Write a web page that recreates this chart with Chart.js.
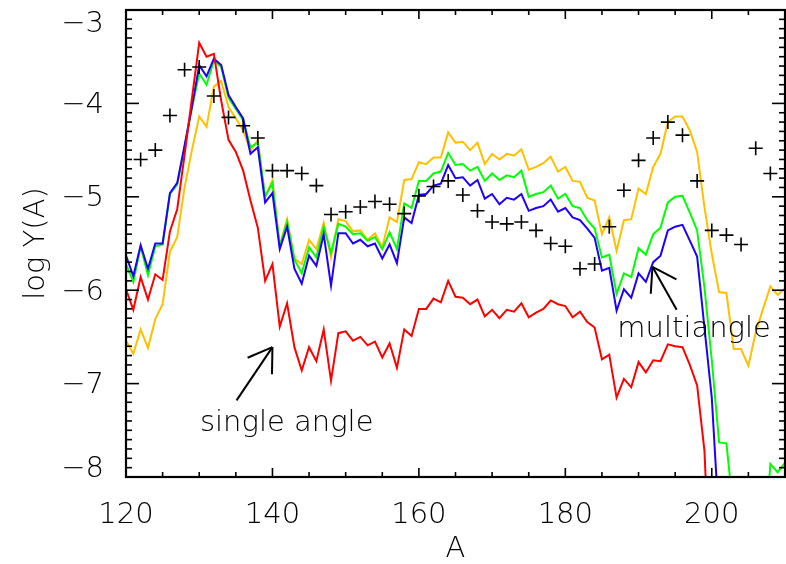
<!DOCTYPE html>
<html>
<head>
<meta charset="utf-8">
<script src="https://cdn.jsdelivr.net/npm/chart.js@4.4.0/dist/chart.umd.min.js"></script>
<style>
  html, body { margin: 0; padding: 0; background: #fff; overflow: hidden; }
  canvas { display: block; }
</style>
</head>
<body>
<canvas id="chart" width="786" height="564"></canvas>
<script>
// mass number A, one point per unit
const massA = [120,121,122,123,124,125,126,127,128,129,130,131,132,133,134,135,136,137,138,139,
  140,141,142,143,144,145,146,147,148,149,150,151,152,153,154,155,156,157,158,159,
  160,161,162,163,164,165,166,167,168,169,170,171,172,173,174,175,176,177,178,179,
  180,181,182,183,184,185,186,187,188,189,190,191,192,193,194,195,196,197,198,199,
  200,201,202,203,204,205,206,207,208,209,210];

// log Y(A), single angle (red)
const redY = [-5.99,-6.21,-5.86,-6.10,-5.83,-5.89,-5.37,-5.13,-4.55,-3.95,
  -3.35,-3.50,-3.47,-3.97,-4.39,-4.52,-4.72,-5.04,-5.33,-5.90,
  -5.72,-6.39,-6.14,-6.61,-6.86,-6.61,-6.76,-6.42,-6.97,-6.46,
  -6.44,-6.54,-6.50,-6.59,-6.55,-6.72,-6.57,-6.83,-6.42,-6.49,
  -6.20,-6.20,-6.09,-6.13,-5.90,-6.07,-6.08,-6.15,-6.10,-6.28,
  -6.21,-6.30,-6.21,-6.23,-6.14,-6.29,-6.24,-6.20,-6.11,-6.15,
  -6.17,-6.29,-6.23,-6.34,-6.40,-6.74,-6.69,-7.15,-6.95,-7.04,
  -6.77,-6.88,-6.75,-6.76,-6.58,-6.60,-6.61,-6.80,-7.02,-7.72,
  -9.5,null,null,null,null,null,null,null,null,null,null];

// multiangle variants
const blueY = [-5.63,-5.85,-5.52,-5.77,-5.50,-5.50,-4.96,-4.85,-4.45,-4.04,
  -3.59,-3.71,-3.52,-3.59,-3.91,-4.04,-4.16,-4.54,-4.47,-5.06,
  -4.96,-5.56,-5.32,-5.77,-5.93,-5.63,-5.74,-5.40,-5.95,-5.39,
  -5.39,-5.50,-5.46,-5.53,-5.50,-5.66,-5.51,-5.71,-5.22,-5.28,
  -4.98,-4.97,-4.88,-4.86,-4.66,-4.80,-4.79,-4.88,-4.82,-5.02,
  -4.97,-5.08,-5.01,-5.03,-4.97,-5.15,-5.12,-5.10,-5.03,-5.16,
  -5.12,-5.22,-5.25,-5.34,-5.44,-5.79,-5.76,-6.22,-5.99,-6.08,
  -5.82,-5.91,-5.70,-5.63,-5.36,-5.32,-5.30,-5.47,-5.64,-6.40,
  -7.15,-8.5,null,null,null,null,null,null,null,null,null];

const greenY = [-5.72,-5.91,-5.53,-5.84,-5.53,-5.51,-4.97,-4.87,-4.47,-4.05,
  -3.68,-3.80,-3.54,-3.61,-3.94,-4.06,-4.18,-4.47,-4.42,-5.00,
  -4.85,-5.53,-5.27,-5.67,-5.82,-5.54,-5.65,-5.32,-5.60,-5.29,
  -5.32,-5.40,-5.39,-5.47,-5.43,-5.56,-5.38,-5.56,-5.07,-5.12,
  -4.83,-4.83,-4.75,-4.73,-4.53,-4.66,-4.65,-4.72,-4.68,-4.83,
  -4.75,-4.82,-4.77,-4.79,-4.72,-5.00,-4.97,-4.95,-4.88,-5.02,
  -4.97,-5.10,-5.12,-5.25,-5.34,-5.65,-5.62,-6.04,-5.82,-5.86,
  -5.55,-5.62,-5.40,-5.33,-5.06,-5.00,-4.99,-5.17,-5.36,-5.97,
  -6.75,-7.63,-7.64,-8.4,null,null,null,-9.0,-7.86,-7.95,-7.85];

const orangeY = [-6.54,-6.68,-6.42,-6.62,-6.31,-6.15,-5.59,-5.43,-4.90,-4.50,
  -4.14,-4.25,-3.82,-3.76,-4.04,-4.16,-4.29,-4.51,-4.39,-5.00,
  -4.82,-5.52,-5.24,-5.66,-5.72,-5.46,-5.56,-5.28,-5.65,-5.24,
  -5.26,-5.37,-5.36,-5.46,-5.39,-5.54,-5.22,-5.27,-4.82,-4.81,
  -4.63,-4.65,-4.58,-4.58,-4.31,-4.42,-4.41,-4.50,-4.42,-4.65,
  -4.54,-4.60,-4.54,-4.56,-4.49,-4.71,-4.68,-4.64,-4.57,-4.73,
  -4.68,-4.83,-4.84,-5.01,-5.04,-5.40,-5.22,-5.58,-5.25,-5.24,
  -4.91,-4.97,-4.68,-4.54,-4.20,-4.14,-4.14,-4.29,-4.52,-5.11,
  -5.61,-6.02,-6.03,-6.63,-6.63,-6.81,-6.45,-6.20,-5.96,-6.05,-5.98];

// measured values (crosses)
const crossA = [122,124,126,128,130,132,134,136,138,140,142,144,146,148,150,152,154,156,158,160,
  162,164,166,168,170,172,174,176,178,180,182,184,186,188,190,192,194,196,198,200,
  202,204,206,208];
const crossY = [-4.60,-4.50,-4.13,-3.64,-3.61,-3.92,-4.15,-4.24,-4.37,-4.72,
  -4.72,-4.75,-4.88,-5.19,-5.16,-5.11,-5.05,-5.08,-5.18,-4.99,
  -4.89,-4.83,-4.98,-5.15,-5.27,-5.29,-5.27,-5.36,-5.50,-5.53,
  -5.77,-5.72,-5.32,-4.93,-4.61,-4.37,-4.20,-4.34,-4.83,-5.36,
  -5.41,-5.51,-4.48,-4.75];

const xTicks = [120, 140, 160, 180, 200];
const xTickLabels = ['120', '140', '160', '180', '200'];
const yTicks = [-3, -4, -5, -6, -7, -8];
const yTickLabels = ['\u22123', '\u22124', '\u22125', '\u22126', '\u22127', '\u22128'];

// annotations in data units
const notes = [
  { text: 'single angle', a: 130.1, y: -7.51, from: [135.1, -7.18], to: [140.0, -6.61] },
  { text: 'multiangle', a: 187.1, y: -6.50, from: [195.2, -6.21], to: [191.9, -5.75] }
];

const FONT = '200 29px "DejaVu Sans", sans-serif';

function pts(xs, ys) {
  return xs.map((x, i) => ({ x: x, y: ys[i] }));
}

function seg(ctx, x1, y1, x2, y2) {
  ctx.beginPath();
  ctx.moveTo(x1, y1);
  ctx.lineTo(x2, y2);
  ctx.stroke();
}

const axesPlugin = {
  id: 'idlAxes',
  afterDraw(chart) {
    const { ctx, chartArea: a } = chart;
    const x = chart.scales.x, y = chart.scales.y;
    ctx.save();
    ctx.strokeStyle = '#000';
    ctx.fillStyle = '#000';

    // minor / major ticks pointing inward on all four sides
    ctx.lineWidth = 1.6;
    for (let v = 120; v <= 210; v += 5) {
      const px = x.getPixelForValue(v);
      const len = (v % 20 === 0) ? 9 : 5;
      seg(ctx, px, a.bottom, px, a.bottom - len);
      seg(ctx, px, a.top, px, a.top + len);
    }
    for (let k = 0; k <= 50; k++) {
      const py = y.getPixelForValue(-8 + k / 10);
      const len = (k % 10 === 0) ? 13 : 6;
      seg(ctx, a.left, py, a.left + len, py);
      seg(ctx, a.right, py, a.right - len, py);
    }

    ctx.lineWidth = 2.2;
    ctx.strokeRect(a.left, a.top, a.right - a.left, a.bottom - a.top);

    // tick labels
    ctx.font = FONT;
    ctx.textAlign = 'center';
    ctx.textBaseline = 'middle';
    xTicks.forEach((v, i) => {
      ctx.fillText(xTickLabels[i], x.getPixelForValue(v), a.bottom + 38);
    });
    ctx.textAlign = 'right';
    yTicks.forEach((v, i) => {
      let py = y.getPixelForValue(v);
      py = Math.min(Math.max(py, a.top + 12), a.bottom - 10);
      ctx.fillText(yTickLabels[i], a.left - 22, py + 2);
    });

    // axis titles
    ctx.textAlign = 'center';
    ctx.fillText('A', (a.left + a.right) / 2, 549);
    ctx.save();
    ctx.translate(36, (a.top + a.bottom) / 2);
    ctx.rotate(-Math.PI / 2);
    ctx.fillText('log Y(A)', 0, 0);
    ctx.restore();

    // arrows and notes
    ctx.lineWidth = 2;
    ctx.textAlign = 'left';
    ctx.textBaseline = 'alphabetic';
    notes.forEach(n => {
      const x1 = x.getPixelForValue(n.from[0]), y1 = y.getPixelForValue(n.from[1]);
      const x2 = x.getPixelForValue(n.to[0]), y2 = y.getPixelForValue(n.to[1]);
      seg(ctx, x1, y1, x2, y2);
      const ang = Math.atan2(y1 - y2, x1 - x2);
      const head = 27, spread = 33 * Math.PI / 180;
      seg(ctx, x2, y2, x2 + head * Math.cos(ang + spread), y2 + head * Math.sin(ang + spread));
      seg(ctx, x2, y2, x2 + head * Math.cos(ang - spread), y2 + head * Math.sin(ang - spread));
      ctx.fillText(n.text, x.getPixelForValue(n.a), y.getPixelForValue(n.y));
    });
    ctx.restore();
  }
};

const lineStyle = { pointRadius: 0, borderWidth: 2, tension: 0, fill: false, spanGaps: false, clip: 0 };

new Chart(document.getElementById('chart'), {
  type: 'line',
  data: {
    datasets: [
      { label: 'measured', data: pts(crossA, crossY), showLine: false, pointStyle: 'cross',
        pointRadius: 7, pointBorderWidth: 1.6, pointBorderColor: '#000', borderColor: '#000', clip: 0 },
      Object.assign({ label: 'single angle', data: pts(massA, redY), borderColor: '#ff0000' }, lineStyle),
      Object.assign({ label: 'multiangle 1', data: pts(massA, blueY), borderColor: '#1f00ff' }, lineStyle),
      Object.assign({ label: 'multiangle 2', data: pts(massA, greenY), borderColor: '#00ff00' }, lineStyle),
      Object.assign({ label: 'multiangle 3', data: pts(massA, orangeY), borderColor: '#ffc000' }, lineStyle)
    ]
  },
  options: {
    responsive: false,
    maintainAspectRatio: false,
    animation: false,
    devicePixelRatio: 1,
    layout: { autoPadding: false, padding: { left: 126, right: 1, top: 10, bottom: 87 } },
    plugins: { legend: { display: false }, tooltip: { enabled: false } },
    scales: {
      x: { type: 'linear', min: 120, max: 210, display: false },
      y: { type: 'linear', min: -8, max: -3, display: false }
    }
  },
  plugins: [axesPlugin]
});
</script>
</body>
</html>
